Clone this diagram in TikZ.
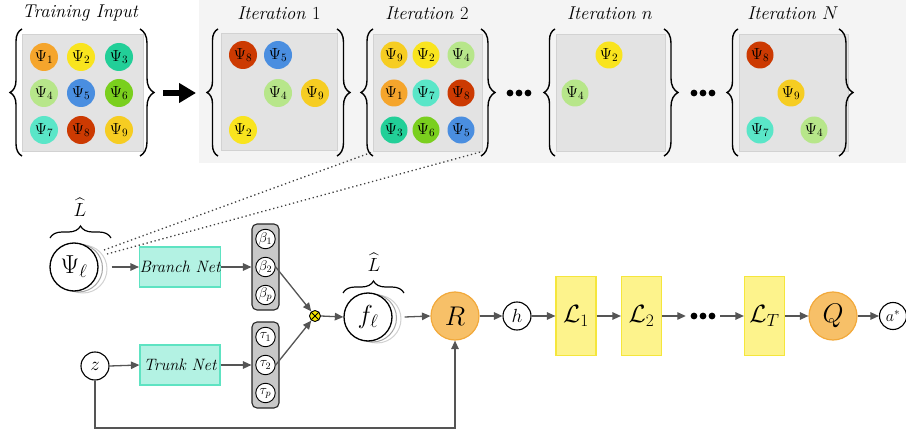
\RequirePackage{fix-cm}
\documentclass[tikz,border=0pt]{standalone}
\usepackage{amsmath}
\usetikzlibrary{arrows.meta,decorations.pathreplacing}
\definecolor{c1}{HTML}{F5A52C}
\definecolor{c2}{HTML}{F9E41E}
\definecolor{c3}{HTML}{22CF98}
\definecolor{c4}{HTML}{B7E68A}
\definecolor{c5}{HTML}{4A8EE0}
\definecolor{c6}{HTML}{7ACF1E}
\definecolor{c7}{HTML}{5AE6C8}
\definecolor{c8}{HTML}{CC3A02}
\definecolor{c9}{HTML}{F6CD22}
\definecolor{bandc}{HTML}{F4F4F4}
\definecolor{boxc}{HTML}{E3E3E3}
\definecolor{boxd}{HTML}{D2D2D2}
\definecolor{arrc}{HTML}{555555}
\definecolor{netf}{HTML}{B3F2E3}
\definecolor{netd}{HTML}{5EE3C2}
\definecolor{colf}{HTML}{C8C8C8}
\definecolor{orf}{HTML}{F7C068}
\definecolor{ord}{HTML}{F2A93B}
\definecolor{layf}{HTML}{FDF38C}
\definecolor{layd}{HTML}{F5E63C}
\definecolor{otc}{HTML}{F5E400}
\begin{document}
\begin{tikzpicture}[x=1pt,y=-1pt,
  psi/.style={circle,minimum size=28pt,inner sep=0pt,font=\fontsize{16}{17}\selectfont},
  psis/.style={psi,minimum size=27pt},
  gbox/.style={rectangle,fill=boxc,draw=boxd,line width=1pt,minimum height=117pt,inner sep=0pt},
  brc/.style={decorate,decoration={brace,amplitude=#1},line width=1.4pt},
  ttl/.style={font=\fontsize{18.5}{20}\selectfont\itshape},
  arr/.style={draw=arrc,line width=1.3pt,-{Triangle[length=8.5pt,width=7.5pt]}},
  net/.style={rectangle,fill=netf,draw=netd,line width=1.2pt,minimum width=80pt,minimum height=40pt,inner sep=0pt,font=\fontsize{16.5}{18}\selectfont\itshape},
  col/.style={rectangle,rounded corners=5pt,fill=colf,draw=black!85,line width=1.1pt,minimum width=27pt,minimum height=86pt},
  sm/.style={circle,draw=black,fill=white,line width=0.9pt,minimum size=19.5pt,inner sep=0pt,font=\fontsize{14}{15}\selectfont},
  big/.style={circle,draw=black,fill=white,line width=1.3pt,minimum size=48pt,inner sep=0pt,font=\fontsize{26}{28}\selectfont},
  bigback/.style={circle,draw=#1,fill=white,line width=1pt,minimum size=48pt,inner sep=0pt},
  orng/.style={circle,fill=orf,draw=ord,line width=1.2pt,minimum size=48pt,inner sep=0pt,font=\fontsize{27}{29}\selectfont},
  lay/.style={rectangle,fill=layf,draw=layd,line width=1.2pt,minimum width=40pt,minimum height=79pt,inner sep=0pt,font=\fontsize{25}{27}\selectfont},
  smallc/.style={circle,draw=black,fill=white,line width=1.1pt,minimum size=28pt,inner sep=0pt,font=\fontsize{19}{20}\selectfont},
  lhat/.style={font=\fontsize{19}{20}\selectfont,inner sep=0pt},
  dotl/.style={line width=1.3pt,black!75,dash pattern=on 1.3pt off 2.8pt}
]
\useasboundingbox (0,0) rectangle (906,436);
\fill[bandc] (199,0) rectangle (906,163);

% ---------- titles
\node[ttl] (tTI) at (80,13) {Training Input};
\node[ttl] (tI1) at (279,13) {Iteration $1$};
\node[ttl] (tI2) at (427,13) {Iteration $2$};
\node[ttl] (tIn) at (610,13) {Iteration $n$};
\node[ttl] (tIN) at (793,13) {Iteration $N$};

% ---------- boxes
\node[gbox,minimum width=121pt] (bTI) at (82.5,93) {};
\node[gbox,minimum width=116pt] (bI1) at (279,92) {};
\node[gbox,minimum width=109pt] (bI2) at (427.5,93) {};
\node[gbox,minimum width=109pt] (bIn) at (610.5,93) {};
\node[gbox,minimum width=109pt] (bIN) at (793.5,93) {};

% ---------- braces
\draw[brc=12pt] (22,156) -- (22,29);
\draw[brc=14pt] (140,29) -- (140,156);
\draw[brc=11pt] (218,156) -- (218,29);
\draw[brc=13pt] (337,29) -- (337,156);
\draw[brc=12pt] (373,156) -- (373,29);
\draw[brc=14pt] (481,29) -- (481,156);
\draw[brc=11pt] (555,156) -- (555,29);
\draw[brc=14pt] (664,29) -- (664,156);
\draw[brc=11pt] (738,156) -- (738,29);
\draw[brc=14pt] (839,29) -- (839,156);

% ---------- training input circles
\node[psi,fill=c1] (t1) at (44,57) {$\Psi_1$};
\node[psi,fill=c2] (t2) at (81,57) {$\Psi_2$};
\node[psi,fill=c3] (t3) at (119,57) {$\Psi_3$};
\node[psi,fill=c4] (t4) at (44,93) {$\Psi_4$};
\node[psi,fill=c5] (t5) at (81,93) {$\Psi_5$};
\node[psi,fill=c6] (t6) at (119,93) {$\Psi_6$};
\node[psi,fill=c7] (t7) at (44,130) {$\Psi_7$};
\node[psi,fill=c8] (t8) at (81,130) {$\Psi_8$};
\node[psi,fill=c9] (t9) at (119,130) {$\Psi_9$};

% ---------- iteration 1
\node[psi,fill=c8] (a8) at (243,55) {$\Psi_8$};
\node[psi,fill=c5] (a5) at (278,55) {$\Psi_5$};
\node[psi,fill=c4] (a4) at (278,93) {$\Psi_4$};
\node[psi,fill=c9] (a9) at (315,93) {$\Psi_9$};
\node[psi,fill=c2] (a2) at (243,130) {$\Psi_2$};

% ---------- iteration 2
\node[psis,fill=c9] (b9) at (394,55) {$\Psi_9$};
\node[psis,fill=c2] (b2) at (426,55) {$\Psi_2$};
\node[psis,fill=c4] (b4) at (461,55) {$\Psi_4$};
\node[psis,fill=c1] (b1) at (394,93) {$\Psi_1$};
\node[psis,fill=c7] (b7) at (426,93) {$\Psi_7$};
\node[psis,fill=c8] (b8) at (461,93) {$\Psi_8$};
\node[psis,fill=c3] (b3) at (394,130) {$\Psi_3$};
\node[psis,fill=c6] (b6) at (426,130) {$\Psi_6$};
\node[psis,fill=c5] (b5) at (461,130) {$\Psi_5$};

% ---------- iteration n
\node[psis,fill=c2] (n2) at (609,55) {$\Psi_2$};
\node[psis,fill=c4] (n4) at (575,93) {$\Psi_4$};

% ---------- iteration N
\node[psis,fill=c8] (m8) at (760,55) {$\Psi_8$};
\node[psis,fill=c9] (m9) at (791,93) {$\Psi_9$};
\node[psis,fill=c7] (m7) at (760,130) {$\Psi_7$};
\node[psis,fill=c4] (m4) at (814,130) {$\Psi_4$};

% ---------- big arrow and dots
\coordinate (ba1) at (163,93);
\coordinate (ba2) at (196,93);
\draw[line width=6pt,-{Triangle[length=17pt,width=19pt]}] (ba1) -- (ba2);
\node[minimum width=30pt] (dA) at (519,93) {};
\node[minimum width=30pt] (dB) at (703,93) {};
\foreach \xx in {510,519,528} \fill (\xx,93) circle (3.4);
\foreach \xx in {694,703,712} \fill (\xx,93) circle (3.4);

% ---------- bottom: Psi_l
\node[bigback=gray!35] (psiB2) at (83,269) {};
\node[bigback=gray!70] (psiB1) at (78.5,268) {};
\node[big] (psi) at (74,267) {$\Psi_\ell$};
\draw[brc=12pt,line width=1.2pt] (50,238) -- (111,238);
\node[lhat] (Lh1) at (80,207) {$\widehat{L}$};

% dotted lines
\coordinate (d1) at (104,250);
\coordinate (d2) at (107,254);
\draw[dotl] (d1) -- (bI2.south west);
\draw[dotl] (d2) -- ([xshift=-2pt]bI2.south east);

\node[net] (branch) at (180,267) {Branch Net};
\node[net] (trunk) at (180,365) {Trunk Net};

\node[col] (bcol) at (265.5,267) {};
\node[sm] (be1) at (265.5,239) {$\beta_1$};
\node[sm] (be2) at (265.5,267) {$\beta_2$};
\node[sm] (bep) at (265.5,295) {$\beta_p$};

\node[col] (tcol) at (265.5,365) {};
\node[sm] (ta1) at (265.5,337) {$\tau_1$};
\node[sm] (ta2) at (265.5,365) {$\tau_2$};
\node[sm] (tap) at (265.5,393) {$\tau_p$};

\node[smallc] (z) at (95,366) {$z$};

\node[circle,draw=black,fill=otc,line width=0.9pt,minimum size=11pt,inner sep=0pt,
  path picture={\draw[line width=0.9pt] (path picture bounding box.north west) -- (path picture bounding box.south east);
                \draw[line width=0.9pt] (path picture bounding box.north east) -- (path picture bounding box.south west);}] (ot) at (315,316) {};

\node[bigback=gray!35] (fB2) at (377,319) {};
\node[bigback=gray!70] (fB1) at (372.5,318) {};
\node[big] (f) at (368,317) {$f_\ell$};
\draw[brc=12pt,line width=1.2pt] (343,293) -- (404,293);
\node[lhat] (Lh2) at (374,262) {$\widehat{L}$};

\node[orng] (R) at (455,316) {$R$};
\node[smallc] (h) at (517,316) {$h$};
\node[lay] (L1) at (576,316) {$\mathcal{L}_1$};
\node[lay] (L2) at (641.5,316) {$\mathcal{L}_2$};
\node[minimum width=34pt,inner sep=0pt] (dC) at (703,316) {};
\foreach \xx in {694,703,712} \fill (\xx,316) circle (3.4);
\node[lay] (LT) at (764.5,316) {$\mathcal{L}_T$};
\node[orng] (Q) at (833,316) {$Q$};
\node[circle,draw=black,fill=white,line width=1.1pt,minimum size=27pt,inner sep=0pt,font=\fontsize{16}{17}\selectfont] (as) at (893,316) {$a^*$};

% ---------- arrows
\draw[arr] ([xshift=13pt]psi.east) -- (branch.west);
\draw[arr] (branch.east) -- (bcol.west);
\draw[arr] (z.east) -- (trunk.west);
\draw[arr] (trunk.east) -- (tcol.west);
\draw[arr] (be2.east) -- (ot);
\draw[arr] (ta2.east) -- (ot);
\draw[arr] (ot.east) -- (f.west);
\draw[arr] ([xshift=12pt]f.east) -- (R.west);
\coordinate (zb) at (95,428);
\draw[arr] (z.south) -- (zb) -| (R.south);
\draw[arr] (R.east) -- (h.west);
\draw[arr] (h.east) -- (L1.west);
\draw[arr] (L1.east) -- (L2.west);
\draw[arr] (L2.east) -- (dC.west);
\draw[arr] (dC.east) -- (LT.west);
\draw[arr] (LT.east) -- (Q.west);
\draw[arr] (Q.east) -- (as.west);
\end{tikzpicture}
\end{document}
